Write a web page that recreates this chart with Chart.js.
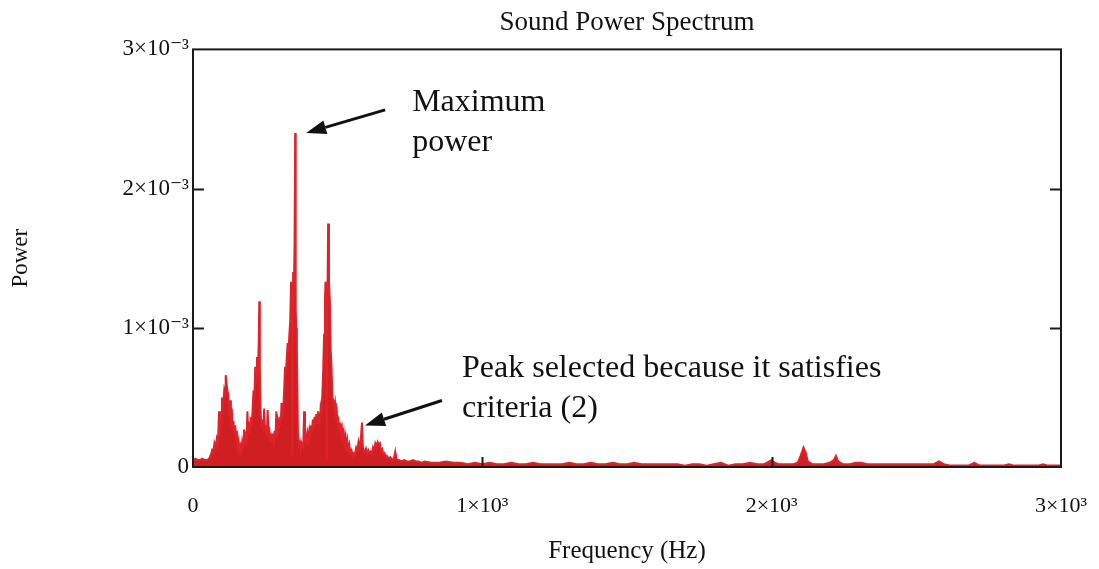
<!DOCTYPE html>
<html>
<head>
<meta charset="utf-8">
<script src="https://cdn.jsdelivr.net/npm/chart.js@4.4.1/dist/chart.umd.min.js"></script>
<style>
  html, body { margin: 0; padding: 0; background: #ffffff; }
  #wrap { width: 1099px; height: 569px; position: relative; }
</style>
</head>
<body>
<div id="wrap"><canvas id="c" width="1099" height="569"></canvas></div>
<script>
// Frequency (Hz) of each sample
const freqHz = [
  0, 8, 16, 24, 32, 40, 48, 56, 62, 66, 70, 74, 78, 82, 86, 90, 93, 97, 100, 104,
  108, 111, 113, 116, 119, 122, 125, 128, 131, 134, 137, 140, 143, 146, 149, 152, 155, 158, 161, 164,
  167, 170, 173, 176, 179, 182, 185, 188, 191, 194, 197, 200, 203, 206, 209, 212, 215, 218, 221, 224,
  227, 229, 231, 234, 237, 240, 243, 246, 249, 252, 255, 258, 261, 264, 267, 270, 273, 276, 279, 282,
  285, 288, 291, 294, 297, 300, 303, 306, 309, 312, 315, 318, 321, 324, 327, 330, 333, 336, 339, 341,
  343, 346, 349, 351, 353, 355, 357, 359, 361, 363, 366, 369, 372, 375, 378, 381, 384, 387, 390, 393,
  396, 399, 402, 405, 408, 411, 414, 417, 420, 423, 426, 429, 432, 435, 438, 441, 444, 447, 450, 453,
  456, 458, 460, 462, 464, 467, 470, 473, 476, 479, 482, 485, 488, 491, 494, 497, 500, 503, 506, 509,
  512, 515, 518, 521, 524, 527, 530, 533, 536, 540, 544, 548, 552, 556, 560, 564, 568, 572, 576, 580,
  584, 587, 590, 594, 598, 602, 606, 610, 614, 618, 622, 626, 630, 634, 638, 642, 646, 650, 654, 658,
  662, 666, 670, 676, 682, 688, 694, 699, 704, 712, 720, 730, 740, 750, 760, 770, 780, 790, 800, 825,
  850, 875, 900, 925, 950, 975, 1000, 1025, 1050, 1075, 1100, 1125, 1150, 1175, 1200, 1225, 1250, 1275, 1300, 1325,
  1350, 1375, 1400, 1425, 1450, 1475, 1500, 1525, 1550, 1575, 1600, 1625, 1650, 1675, 1700, 1725, 1750, 1775, 1800, 1825,
  1850, 1875, 1900, 1925, 1950, 1975, 2000, 2010, 2025, 2050, 2075, 2090, 2100, 2110, 2118, 2125, 2140, 2160, 2180, 2200,
  2215, 2222, 2230, 2245, 2270, 2290, 2310, 2330, 2360, 2400, 2440, 2480, 2520, 2560, 2578, 2595, 2620, 2650, 2680, 2700,
  2720, 2760, 2800, 2820, 2840, 2880, 2920, 2938, 2955, 3000
];
// Power at each frequency, in units of 10^-3
const powerE3 = [
  0.05, 0.06, 0.05, 0.05, 0.06, 0.05, 0.05, 0.06, 0.09, 0.12, 0.10, 0.17, 0.14, 0.20, 0.16, 0.40, 0.22, 0.34, 0.50, 0.44,
  0.55, 0.52, 0.66, 0.60, 0.55, 0.52, 0.36, 0.48, 0.30, 0.42, 0.27, 0.33, 0.24, 0.30, 0.20, 0.26, 0.14, 0.18, 0.12, 0.15,
  0.11, 0.18, 0.14, 0.27, 0.16, 0.22, 0.19, 0.40, 0.24, 0.30, 0.28, 0.36, 0.30, 0.42, 0.55, 0.48, 0.72, 0.62, 0.79, 0.66,
  0.88, 1.19, 0.70, 0.38, 0.29, 0.34, 0.25, 0.42, 0.27, 0.30, 0.22, 0.41, 0.24, 0.26, 0.20, 0.22, 0.18, 0.24, 0.15, 0.26,
  0.20, 0.40, 0.22, 0.32, 0.28, 0.36, 0.30, 0.46, 0.35, 0.42, 0.55, 0.72, 0.66, 0.78, 0.89, 0.82, 0.95, 1.05, 1.33, 1.20,
  0.08, 1.40, 1.33, 1.60, 2.40, 1.13, 1.00, 0.85, 0.50, 0.20, 0.16, 0.18, 0.12, 0.17, 0.15, 0.14, 0.40, 0.18, 0.22, 0.16,
  0.24, 0.20, 0.26, 0.21, 0.30, 0.25, 0.34, 0.28, 0.36, 0.30, 0.38, 0.32, 0.40, 0.36, 0.30, 0.42, 0.38, 0.52, 0.70, 0.95,
  1.20, 1.33, 1.03, 0.05, 1.05, 1.75, 1.33, 1.20, 0.84, 0.70, 0.50, 0.48, 0.42, 0.46, 0.38, 0.40, 0.30, 0.33, 0.26, 0.32,
  0.24, 0.28, 0.22, 0.25, 0.18, 0.22, 0.15, 0.19, 0.12, 0.16, 0.10, 0.12, 0.08, 0.10, 0.09, 0.14, 0.12, 0.18, 0.14, 0.20,
  0.32, 0.15, 0.12, 0.10, 0.13, 0.09, 0.12, 0.10, 0.11, 0.09, 0.14, 0.12, 0.17, 0.15, 0.18, 0.16, 0.17, 0.12, 0.13, 0.09,
  0.10, 0.07, 0.08, 0.06, 0.07, 0.05, 0.06, 0.11, 0.05, 0.05, 0.04, 0.05, 0.04, 0.04, 0.05, 0.04, 0.04, 0.03, 0.04, 0.03,
  0.03, 0.04, 0.03, 0.03, 0.02, 0.03, 0.02, 0.03, 0.02, 0.02, 0.03, 0.02, 0.02, 0.03, 0.02, 0.02, 0.02, 0.02, 0.03, 0.02,
  0.02, 0.03, 0.02, 0.02, 0.03, 0.02, 0.02, 0.03, 0.02, 0.02, 0.02, 0.02, 0.02, 0.02, 0.01, 0.02, 0.02, 0.01, 0.02, 0.03,
  0.01, 0.02, 0.02, 0.03, 0.02, 0.02, 0.05, 0.03, 0.02, 0.02, 0.02, 0.03, 0.08, 0.14, 0.10, 0.04, 0.02, 0.02, 0.02, 0.03,
  0.05, 0.08, 0.04, 0.02, 0.02, 0.03, 0.03, 0.02, 0.02, 0.02, 0.02, 0.02, 0.02, 0.02, 0.04, 0.02, 0.01, 0.01, 0.01, 0.03,
  0.01, 0.01, 0.01, 0.02, 0.01, 0.01, 0.01, 0.02, 0.01, 0.01
];
const xTickValues = [0, 1000, 2000, 3000];
const xTickLabels = ['0', '1×10³', '2×10³', '3×10³'];
const yTickValues = [0, 1, 2, 3];
const yTickLabels = ['0', '1×10⁻³', '2×10⁻³', '3×10⁻³'];
const chartTitle = 'Sound Power Spectrum';
const xTitle = 'Frequency (Hz)';
const yTitle = 'Power';
// Annotated peaks: [frequency, power (10^-3)]
const maxPeak = [353, 2.40];
const selectedPeak = [584, 0.32];
const maxPeakText = ['Maximum', 'power'];
const selectedPeakText = ['Peak selected because it satisfies', 'criteria (2)'];

const SERIF = '"Liberation Serif", "DejaVu Serif", serif';

function drawArrow(ctx, x1, y1, x2, y2) {
  const ang = Math.atan2(y2 - y1, x2 - x1);
  const headLen = 20, headW = 7;
  const bx = x2 - headLen * Math.cos(ang), by = y2 - headLen * Math.sin(ang);
  ctx.save();
  ctx.strokeStyle = '#111';
  ctx.fillStyle = '#111';
  ctx.lineWidth = 3;
  ctx.beginPath();
  ctx.moveTo(x1, y1);
  ctx.lineTo(bx, by);
  ctx.stroke();
  ctx.beginPath();
  ctx.moveTo(x2, y2);
  ctx.lineTo(bx + headW * Math.sin(ang), by - headW * Math.cos(ang));
  ctx.lineTo(bx - headW * Math.sin(ang), by + headW * Math.cos(ang));
  ctx.closePath();
  ctx.fill();
  ctx.restore();
}

const framePlugin = {
  id: 'frame',
  afterDraw(chart) {
    const ctx = chart.ctx;
    const a = chart.chartArea;
    const xs = chart.scales.x, ys = chart.scales.y;
    ctx.save();
    ctx.strokeStyle = '#1a1a1a';
    ctx.lineWidth = 2;
    ctx.strokeRect(a.left, a.top, a.right - a.left, a.bottom - a.top);
    ctx.beginPath();
    yTickValues.slice(1, -1).forEach(v => {
      const y = Math.round(ys.getPixelForValue(v)) + 0.5;
      ctx.moveTo(a.left, y); ctx.lineTo(a.left + 11, y);
      ctx.moveTo(a.right, y); ctx.lineTo(a.right - 11, y);
    });
    xTickValues.slice(1, -1).forEach(v => {
      const x = Math.round(xs.getPixelForValue(v)) + 0.5;
      ctx.moveTo(x, a.bottom); ctx.lineTo(x, a.bottom - 10);
    });
    ctx.stroke();
    ctx.restore();

    // annotations
    ctx.save();
    ctx.fillStyle = '#111';
    ctx.font = '32px ' + SERIF;
    ctx.textBaseline = 'alphabetic';
    const p1x = xs.getPixelForValue(maxPeak[0]), p1y = ys.getPixelForValue(maxPeak[1]);
    drawArrow(ctx, p1x + 90, p1y - 23, p1x + 11, p1y);
    ctx.fillText(maxPeakText[0], p1x + 117, p1y - 22);
    ctx.fillText(maxPeakText[1], p1x + 117, p1y + 18);
    const p2x = xs.getPixelForValue(selectedPeak[0]), p2y = ys.getPixelForValue(selectedPeak[1]);
    drawArrow(ctx, p2x + 80, p2y - 22, p2x + 3, p2y + 3);
    ctx.fillText(selectedPeakText[0], p2x + 100, p2y - 45);
    ctx.fillText(selectedPeakText[1], p2x + 100, p2y - 5);
    ctx.restore();
  }
};

new Chart(document.getElementById('c'), {
  type: 'line',
  data: {
    datasets: [{
      data: freqHz.map((f, i) => ({ x: f, y: powerE3[i] })),
      borderColor: '#e0232a',
      backgroundColor: '#cf1f22',
      borderWidth: 2,
      fill: 'origin',
      pointRadius: 0,
      tension: 0
    }]
  },
  options: {
    responsive: false,
    animation: false,
    layout: { padding: { left: 0, right: 38, top: 0, bottom: 0 } },
    plugins: {
      legend: { display: false },
      tooltip: { enabled: false },
      title: {
        display: true,
        text: chartTitle,
        fullSize: false,
        color: '#111',
        font: { family: SERIF, size: 27, weight: 'normal', lineHeight: 1.2 },
        padding: { top: 7, bottom: 10 }
      }
    },
    scales: {
      x: {
        type: 'linear',
        min: 0, max: 3000,
        afterBuildTicks(scale) { scale.ticks = xTickValues.map(v => ({ value: v })); },
        afterFit(scale) { scale.height = 102; scale.paddingRight = 0; scale.paddingLeft = 0; },
        grid: { display: false, drawTicks: false },
        border: { display: false },
        ticks: {
          color: '#111',
          padding: 26,
          maxRotation: 0,
          font: { family: SERIF, size: 22 },
          callback: (v) => xTickLabels[xTickValues.indexOf(v)]
        },
        title: {
          display: true, text: xTitle, color: '#111',
          font: { family: SERIF, size: 25, lineHeight: 1.2 },
          padding: { top: 3, bottom: 3 }
        }
      },
      y: {
        type: 'linear',
        min: 0, max: 3,
        afterBuildTicks(scale) { scale.ticks = yTickValues.map(v => ({ value: v })); },
        afterFit(scale) { scale.width = 193; scale.paddingTop = 0; scale.paddingBottom = 0; },
        grid: { display: false, drawTicks: false },
        border: { display: false },
        ticks: {
          color: '#111',
          padding: 4,
          font: { family: SERIF, size: 23 },
          callback: (v) => yTickLabels[yTickValues.indexOf(v)]
        },
        title: {
          display: true, text: yTitle, color: '#111',
          font: { family: SERIF, size: 23, lineHeight: 1.2 },
          padding: { top: 7, bottom: 7 }
        }
      }
    }
  },
  plugins: [framePlugin]
});
</script>
</body>
</html>
